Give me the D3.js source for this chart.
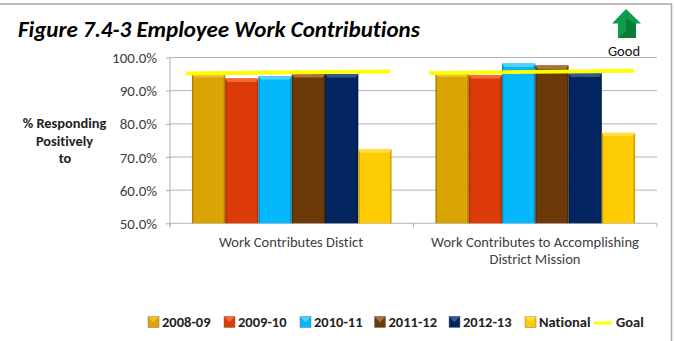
<!DOCTYPE html>
<html><head><meta charset="utf-8">
<script src="https://cdn.jsdelivr.net/npm/d3@7"></script>
<style>html,body{margin:0;padding:0;background:#fff}svg{display:block}text{font-family:Carlito,"Open Sans","Noto Sans",sans-serif;font-variant-ligatures:none}</style>
</head><body><svg id="c" width="674" height="341"></svg>
<script>
const categories=["Work Contributes Distict","Work Contributes to Accomplishing District Mission"];
const seriesNames=["2008-09","2009-10","2010-11","2011-12","2012-13","National"];
const v200809=[95.0,95.2];
const v200910=[93.7,94.7];
const v201011=[94.4,98.2];
const v201112=[95.0,97.6];
const v201213=[95.0,95.2];
const vNational=[72.3,77.3];
const goalStart=[95.2,95.3];
const goalEnd=[95.8,96.0];
const yTicks=[50,60,70,80,90,100];
const colors=["#d9a404","#dc3a06","#05b8fb","#6b3a08","#03255f","#fdcb03"];
const tops=["#f0c030","#f4683a","#4fd0fd","#a8743c","#35558f","#ffe040"];
const values=[v200809,v200910,v201011,v201112,v201213,vNational];

const svg=d3.select("#c");
const y=d3.scaleLinear().domain([50,100]).range([223.3,57.5]);
const x0=d3.scaleBand().domain(categories).range([170,657]);
const x1=d3.scaleBand().domain(seriesNames).range([0,x0.bandwidth()]).paddingOuter(0.66).paddingInner(0);

// frame
svg.append("path").attr("d","M0 4H671.5V341").attr("fill","none").attr("stroke","#a9a9a9").attr("stroke-width",1.5);

// grid + axes
const gy=svg.append("g").attr("transform","translate(170,0)")
 .call(d3.axisLeft(y).tickValues(yTicks).tickSize(4).tickFormat(d=>d.toFixed(1)+"%"));
gy.select(".domain").attr("d","M0 "+y(100)+"V"+(y(50)+4)).attr("stroke","#cfcfcf").attr("stroke-width",1.6);
gy.selectAll(".tick line").attr("stroke","#a8a8a8");
gy.selectAll(".tick text").attr("fill","#404040").attr("font-size",15).attr("x",-13).attr("dy","0.34em");
svg.append("g").selectAll("line").data(yTicks).join("line")
 .attr("x1",170).attr("x2",657).attr("y1",d=>y(d)).attr("y2",d=>y(d))
 .attr("stroke","#b4b4b4").attr("stroke-width",1);
svg.append("g").selectAll("line").data([170,413.5,657]).join("line")
 .attr("x1",d=>d).attr("x2",d=>d).attr("y1",y(50)).attr("y2",y(50)+4).attr("stroke","#b4b4b4");

// bars
const barG=svg.append("g");
seriesNames.forEach((s,i)=>{
  categories.forEach((c,j)=>{
    const bx=x0(c)+x1(s), w=x1.bandwidth(), t=y(values[i][j]), b=y(50);
    barG.append("rect").attr("class","bar").attr("x",bx).attr("y",t).attr("width",w).attr("height",b-t)
      .attr("fill",colors[i]);
    barG.append("path").attr("d",`M${bx} ${t}h${w}l-2.5 3.5h${-(w-5)}z`).attr("fill",tops[i]);
    barG.append("path").attr("d",`M${bx} ${t}v${b-t}h1.5v${-(b-t-3)}z`).attr("fill","#000").attr("opacity",.2);
    barG.append("path").attr("d",`M${bx+w} ${t}v${b-t}h-1.5v${-(b-t-3)}z`).attr("fill","#000").attr("opacity",.2);
  });
});

// goal lines
const goalG=svg.append("g");
categories.forEach((c,j)=>{
  goalG.append("line").attr("x1",x0(c)+x0.bandwidth()*0.065).attr("x2",x0(c)+x0.bandwidth()*0.905)
   .attr("y1",y(goalStart[j])).attr("y2",y(goalEnd[j])).attr("stroke","#ffff00").attr("stroke-width",3.8);
});

// x labels
const xl=(t,x,yy)=>svg.append("text").attr("x",x).attr("y",yy).attr("text-anchor","middle").attr("font-size",14.5).attr("fill","#404040").text(t);
xl("Work Contributes Distict",291,246.5);
xl("Work Contributes to Accomplishing",535,246.5);
xl("District Mission",535,263.5);

// title
svg.append("text").attr("x",18).attr("y",37).attr("font-size",23).attr("font-weight",700).attr("font-style","italic").attr("fill","#000").text("Figure 7.4-3 Employee Work Contributions");

// y title
["% Responding","Positively","to"].forEach((t,i)=>svg.append("text").attr("x",[64.5,64.5,65][i]).attr("y",128+i*17.5).attr("text-anchor","middle").attr("font-size",14.4).attr("font-weight",700).attr("fill","#222").text(t));

// arrow
svg.append("path").attr("d","M626 9L612 23.5H618V38H636V23.5H641Z").attr("fill","#0f9d4c");
svg.append("path").attr("d","M618 38L626 31V19L636 23.5V38Z").attr("fill","#0b7a3a");
svg.append("text").attr("x",624).attr("y",56).attr("text-anchor","middle").attr("font-size",14.5).attr("fill","#111").text("Good");

// legend
const lx=[148,224,300,374.5,449,525];
seriesNames.forEach((s,i)=>{
  svg.append("rect").attr("x",lx[i]).attr("y",316.5).attr("width",11).attr("height",11).attr("fill",colors[i]).attr("stroke","#777").attr("stroke-width",.5);
  svg.append("path").attr("d",`M${lx[i]} 316.5h11l-5.5 6z`).attr("fill",tops[i]);
  svg.append("text").attr("x",lx[i]+14).attr("y",327).attr("font-size",14.5).attr("font-weight",700).attr("fill","#222").text(s);
});
svg.append("line").attr("x1",594).attr("x2",612).attr("y1",323).attr("y2",323).attr("stroke","#ffff00").attr("stroke-width",3);
svg.append("text").attr("x",616).attr("y",327).attr("font-size",14.5).attr("font-weight",700).attr("fill","#222").text("Goal");
</script></body></html>
